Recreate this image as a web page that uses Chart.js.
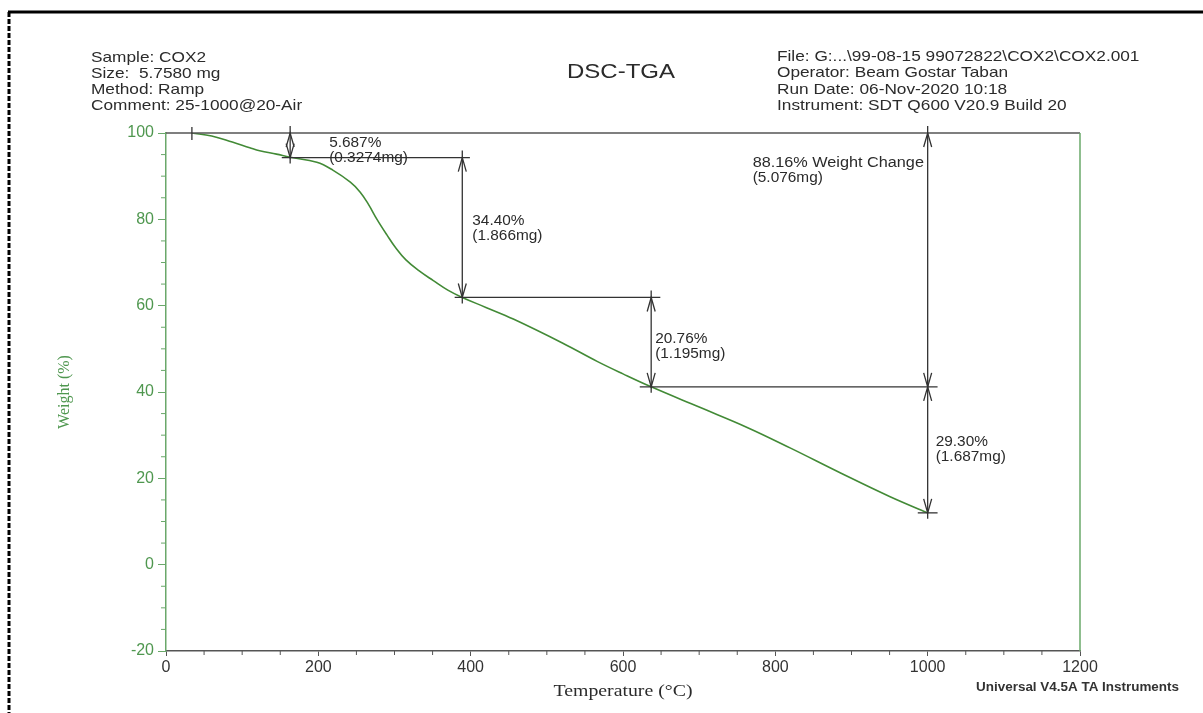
<!DOCTYPE html>
<html>
<head>
<meta charset="utf-8">
<script src="https://cdn.jsdelivr.net/npm/chart.js"></script>
<style>
    html, body { margin: 0; padding: 0; background: #fff; }
    #wrap { width: 1203px; height: 713px; }
</style>
</head>
<body>
<div id="wrap"><canvas id="tga"></canvas></div>
<script>
// TGA curve: temperature (°C) and weight (%)
const temperature = [34, 60, 87, 110, 123, 145, 163, 198, 219, 242, 255, 266, 277, 290, 302, 315, 332, 351, 370, 389, 420, 456, 521, 566, 600, 637, 700, 763, 820, 885, 950, 1000];
const weight = [100, 99.3, 97.9, 96.6, 95.9, 95.1, 94.4, 93.2, 91.4, 88.6, 86.3, 83.4, 80.0, 76.4, 73.3, 70.6, 68.1, 65.8, 63.6, 61.9, 59.6, 56.9, 51.3, 47.1, 44.2, 41.2, 36.5, 31.8, 27.0, 21.3, 15.8, 12.0];

// weight-loss steps (temperature where each step is measured, plateau levels)
const stepTemps = [163, 389, 637, 1000];
const stepLevels = [100, 94.3, 61.9, 41.2, 12.0];
const stepPercent = ['5.687%', '34.40%', '20.76%', '29.30%'];
const stepMass = ['(0.3274mg)', '(1.866mg)', '(1.195mg)', '(1.687mg)'];
const totalChange = ['88.16% Weight Change', '(5.076mg)'];

// axes
const xTicks = [0, 200, 400, 600, 800, 1000, 1200];
const yTicks = [-20, 0, 20, 40, 60, 80, 100];

// header texts
const chartTitle = 'DSC-TGA';
const sampleInfo = ['Sample: COX2', 'Size:  5.7580 mg', 'Method: Ramp', 'Comment: 25-1000@20-Air'];
const runInfo = ['File: G:...\\99-08-15 99072822\\COX2\\COX2.001', 'Operator: Beam Gostar Taban', 'Run Date: 06-Nov-2020 10:18', 'Instrument: SDT Q600 V20.9 Build 20'];
const xTitle = 'Temperature (°C)';
const yTitle = 'Weight (%)';
const footer = 'Universal V4.5A TA Instruments';

const SANS = '"Liberation Sans", Arial, sans-serif';
const SERIF = '"Liberation Serif", "Times New Roman", serif';
const GREEN_LINE = '#428a36';
const GREEN_AXIS = '#6aa86a';
const GREEN_TEXT = '#4f974f';
const INK = '#2b2b2b';

// text drawn with a small horizontal stretch, like the scanned original
function stretchedText(ctx, text, x, y, font, color, align, sx) {
    ctx.save();
    ctx.font = font;
    ctx.fillStyle = color;
    ctx.textBaseline = 'middle';
    ctx.textAlign = 'left';
    const w = ctx.measureText(text).width * sx;
    let left = x;
    if (align === 'right') left = x - w;
    else if (align === 'center') left = x - w / 2;
    ctx.translate(left, y);
    ctx.scale(sx, 1);
    ctx.fillText(text, 0, 0);
    ctx.restore();
}

function arrowHead(ctx, x, yTip, dir) {
    // dir -1: points up, +1: points down
    ctx.beginPath();
    ctx.moveTo(x - 4, yTip - dir * 14);
    ctx.lineTo(x, yTip);
    ctx.lineTo(x + 4, yTip - dir * 14);
    ctx.stroke();
}

function line(ctx, x1, y1, x2, y2) {
    ctx.beginPath();
    ctx.moveTo(x1, y1);
    ctx.lineTo(x2, y2);
    ctx.stroke();
}

const tgaDecor = {
    id: 'tgaDecor',
    afterDatasetsDraw(chart) {
        const ctx = chart.ctx;
        const xs = chart.scales.x, ys = chart.scales.y;
        const area = chart.chartArea;
        const px = v => xs.getPixelForValue(v);
        const py = v => ys.getPixelForValue(v);

        ctx.save();
        // frame: grey top, green right
        ctx.lineWidth = 1.5;
        ctx.strokeStyle = '#555';
        line(ctx, area.left, area.top, area.right, area.top);
        ctx.strokeStyle = GREEN_AXIS;
        line(ctx, area.right, area.top, area.right, area.bottom);

        // minor ticks
        ctx.lineWidth = 1;
        ctx.strokeStyle = GREEN_AXIS;
        for (let v = -20; v <= 100; v += 5) {
            if (v % 20 !== 0) line(ctx, area.left - 5, py(v), area.left, py(v));
        }
        ctx.strokeStyle = '#555';
        for (let v = 0; v <= 1200; v += 50) {
            if (v % 200 !== 0) line(ctx, px(v), area.bottom, px(v), area.bottom + 4);
        }

        // step markers
        ctx.strokeStyle = '#333';
        ctx.lineWidth = 1.3;
        line(ctx, px(temperature[0]), py(100) - 6, px(temperature[0]), py(100) + 7);
        const hSpan = [[152, 399], [379, 649], [622, 1013], [987, 1013]];
        for (let i = 0; i < stepTemps.length; i++) {
            const x = px(stepTemps[i]);
            const yTop = py(stepLevels[i]);
            const yBot = py(stepLevels[i + 1]);
            // plateau line at the lower level
            line(ctx, px(hSpan[i][0]), yBot, px(hSpan[i][1]), yBot);
            // dimension line with arrows and crosses
            line(ctx, x, yTop - 7, x, yBot + 6);
            arrowHead(ctx, x, yTop, -1);
            arrowHead(ctx, x, yBot, 1);
        }
        // total change, 100 % down to the last step start
        const xt = px(stepTemps[3]);
        line(ctx, xt, py(100) - 7, xt, py(stepLevels[3]));
        arrowHead(ctx, xt, py(100), -1);
        arrowHead(ctx, xt, py(stepLevels[3]), 1);

        // step labels
        const f = '14px ' + SANS;
        const sx = 1.1;
        const labelPos = [
            [px(stepTemps[0]) + 39, py(100) + 10],
            [px(stepTemps[1]) + 10, (py(stepLevels[1]) + py(stepLevels[2])) / 2 - 6],
            [px(stepTemps[2]) + 4, (py(stepLevels[2]) + py(stepLevels[3])) / 2 - 3],
            [px(stepTemps[3]) + 8, (py(stepLevels[3]) + py(stepLevels[4])) / 2 - 8]
        ];
        for (let i = 0; i < stepPercent.length; i++) {
            stretchedText(ctx, stepPercent[i], labelPos[i][0], labelPos[i][1], f, INK, 'left', sx);
            stretchedText(ctx, stepMass[i], labelPos[i][0], labelPos[i][1] + 15, f, INK, 'left', sx);
        }
        stretchedText(ctx, totalChange[0], xt - 175, py(100) + 30, f, INK, 'left', 1.16);
        stretchedText(ctx, totalChange[1], xt - 175, py(100) + 45, f, INK, 'left', sx);
        ctx.restore();
    },
    afterDraw(chart) {
        const ctx = chart.ctx;
        const area = chart.chartArea;
        ctx.save();
        // page frame
        ctx.strokeStyle = '#000';
        ctx.lineWidth = 3;
        line(ctx, 8, 12, 1203, 12);
        ctx.setLineDash([5, 2]);
        line(ctx, 9, 12, 9, 713);
        ctx.setLineDash([]);

        // header
        const hf = '15px ' + SANS;
        sampleInfo.forEach((t, i) => stretchedText(ctx, t, 91, 58 + i * 16, hf, INK, 'left', 1.15));
        runInfo.forEach((t, i) => stretchedText(ctx, t, 777, 57 + i * 16.3, hf, INK, 'left', 1.15));
        stretchedText(ctx, chartTitle, 621, 72, '20px ' + SANS, INK, 'center', 1.2);

        // axis titles
        stretchedText(ctx, xTitle, (area.left + area.right) / 2, 692, '16.5px ' + SERIF, INK, 'center', 1.2);
        ctx.save();
        ctx.translate(65, (area.top + area.bottom) / 2);
        ctx.rotate(-Math.PI / 2);
        stretchedText(ctx, yTitle, 0, 0, '16px ' + SERIF, GREEN_TEXT, 'center', 1.0);
        ctx.restore();

        stretchedText(ctx, footer, 1179, 688, 'bold 12px ' + SANS, '#333', 'right', 1.12);
        ctx.restore();
    }
};

new Chart(document.getElementById('tga'), {
    type: 'line',
    data: {
        datasets: [{
            label: 'Weight',
            data: temperature.map((t, i) => ({ x: t, y: weight[i] })),
            borderColor: GREEN_LINE,
            borderWidth: 1.6,
            pointRadius: 0,
            tension: 0.4,
            fill: false
        }]
    },
    options: {
        responsive: true,
        maintainAspectRatio: false,
        animation: false,
        layout: { padding: { top: 133, right: 123, left: 0, bottom: 0 } },
        plugins: { legend: { display: false }, tooltip: { enabled: false } },
        scales: {
            x: {
                type: 'linear',
                min: 0,
                max: 1200,
                afterBuildTicks: s => { s.ticks = xTicks.map(v => ({ value: v })); },
                afterFit: s => { s.height = 62; },
                border: { color: '#555', width: 1.5 },
                grid: { drawOnChartArea: false, drawTicks: true, tickLength: 5, color: '#555' },
                ticks: { color: '#333', padding: 2, maxRotation: 0, font: { family: SANS, size: 16 }, callback: v => String(v) }
            },
            y: {
                type: 'linear',
                min: -20,
                max: 100,
                afterBuildTicks: s => { s.ticks = yTicks.map(v => ({ value: v })); },
                afterFit: s => { s.width = 166; },
                border: { color: GREEN_AXIS, width: 1.5 },
                grid: { drawOnChartArea: false, drawTicks: true, tickLength: 8, color: GREEN_AXIS },
                ticks: { color: GREEN_TEXT, padding: 4, font: { family: SANS, size: 16 }, callback: v => String(v) }
            }
        }
    },
    plugins: [tgaDecor]
});
</script>
</body>
</html>
